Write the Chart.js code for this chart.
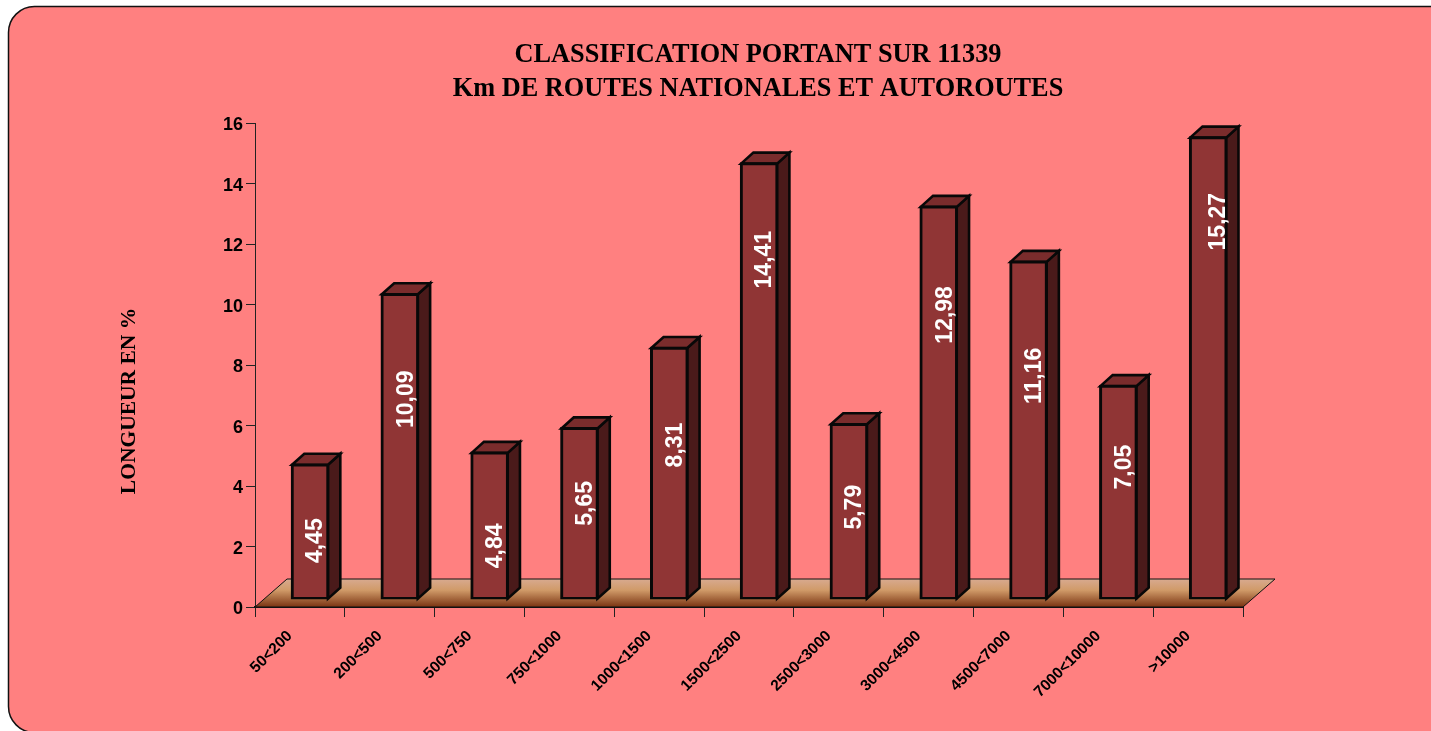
<!DOCTYPE html>
<html>
<head>
<meta charset="utf-8">
<title>Classification</title>
<script src="https://cdn.jsdelivr.net/npm/chart.js@4/dist/chart.umd.min.js"></script>
<style>
    html, body { margin: 0; padding: 0; background: #fff; overflow: hidden; }
    #wrap { width: 1518px; height: 731px; }
</style>
</head>
<body>
<div id="wrap"><canvas id="roadChart" width="1518" height="731"></canvas></div>
<script>
const categories = ['50<200', '200<500', '500<750', '750<1000', '1000<1500', '1500<2500', '2500<3000', '3000<4500', '4500<7000', '7000<10000', '>10000'];
const lengths = [4.45, 10.09, 4.84, 5.65, 8.31, 14.41, 5.79, 12.98, 11.16, 7.05, 15.27];
const yTicks = [0, 2, 4, 6, 8, 10, 12, 14, 16];
const titleLines = ['CLASSIFICATION PORTANT SUR 11339', 'Km DE ROUTES NATIONALES ET AUTOROUTES'];
const yTitle = 'LONGUEUR EN %';

const sans = '"Liberation Sans", Arial, sans-serif';
const serif = '"Liberation Serif", "Times New Roman", serif';

// the bars stand a little inside the floor
const shiftX = 10.1, shiftY = -7.8;
const depthX = 12.3, depthY = -11;
// how far below the bar top each value label sits in the original
const labelDrop = [76, 105, 93, 75, 97, 96, 83, 108, 114, 81, 84];
const labelSide = [6, 7, 6, 6, 6, 6, 6, 7, 6, 6, 10];

function path(ctx, pts) {
    ctx.beginPath();
    pts.forEach((p, i) => i ? ctx.lineTo(p[0], p[1]) : ctx.moveTo(p[0], p[1]));
    ctx.closePath();
}

const panel = {
    id: 'panel',
    beforeDraw(chart) {
        const ctx = chart.ctx;
        ctx.save();
        ctx.beginPath();
        ctx.roundRect(8.5, 6.5, 1490, 726, 26);
        ctx.fillStyle = '#ff8080';
        ctx.fill();
        ctx.strokeStyle = '#111';
        ctx.lineWidth = 1.5;
        ctx.stroke();
        ctx.restore();
    }
};

const nudge = {
    id: 'nudge',
    afterLayout(chart) {
        // title is centred on the whole panel, not on the plot
        chart.titleBlock.left += 79.5;
        chart.titleBlock.right += 79.5;
        // tick labels sit a bit off from where Chart.js puts them
        chart.scales.y.getLabelItems().forEach(item => { item.options.translation[1] += 2; });
        chart.scales.x.getLabelItems().forEach(item => {
            item.options.translation[0] -= 10;
            item.options.translation[1] += 6;
        });
    }
};

const solid = {
    id: 'solid',
    beforeDatasetsDraw(chart) {
        const ctx = chart.ctx, area = chart.chartArea;
        // floor
        const backY = area.bottom - 28, skew = 32;
        const grad = ctx.createLinearGradient(0, backY, 0, area.bottom);
        grad.addColorStop(0, '#d8aa90');
        grad.addColorStop(0.4, '#d09a68');
        grad.addColorStop(1, '#7a3412');
        ctx.save();
        path(ctx, [[area.left, area.bottom], [area.left + skew, backY], [area.right + skew, backY], [area.right, area.bottom]]);
        ctx.fillStyle = grad;
        ctx.fill();
        ctx.strokeStyle = '#111';
        ctx.lineWidth = 1;
        ctx.stroke();
        ctx.restore();

        // top and side faces
        ctx.save();
        ctx.translate(shiftX, shiftY);
        ctx.lineWidth = 2.6;
        ctx.lineJoin = 'miter';
        ctx.strokeStyle = '#080808';
        chart.getDatasetMeta(0).data.forEach(bar => {
            const l = bar.x - bar.width / 2, r = bar.x + bar.width / 2;
            path(ctx, [[r, bar.y], [r + depthX, bar.y + depthY], [r + depthX, bar.base + depthY], [r, bar.base]]);
            ctx.fillStyle = '#4a1a1a';
            ctx.fill();
            ctx.stroke();
            path(ctx, [[l, bar.y], [l + depthX, bar.y + depthY], [r + depthX, bar.y + depthY], [r, bar.y]]);
            ctx.fillStyle = '#7a2c2c';
            ctx.fill();
            ctx.stroke();
        });
        ctx.restore();

        // fronts are drawn by the library, moved onto the floor
        ctx.save();
        ctx.translate(shiftX, shiftY);
    },
    afterDatasetsDraw(chart) {
        const ctx = chart.ctx;
        ctx.restore();
        ctx.save();
        ctx.fillStyle = '#fff';
        ctx.font = 'bold 23px ' + sans;
        ctx.textAlign = 'center';
        ctx.textBaseline = 'middle';
        chart.getDatasetMeta(0).data.forEach((bar, i) => {
            ctx.save();
            ctx.translate(bar.x + shiftX + labelSide[i], bar.y + shiftY + labelDrop[i]);
            ctx.rotate(-Math.PI / 2);
            ctx.fillText(lengths[i].toFixed(2).replace('.', ','), 0, 0);
            ctx.restore();
        });
        ctx.restore();
    },
    afterDraw(chart) {
        // axis title sits lower than the middle of the scale
        const ctx = chart.ctx;
        ctx.save();
        ctx.translate(129, 401);
        ctx.rotate(-Math.PI / 2);
        ctx.fillStyle = '#000';
        ctx.font = 'bold 21.5px ' + serif;
        ctx.textAlign = 'center';
        ctx.textBaseline = 'middle';
        ctx.fillText(yTitle, 0, 0);
        ctx.restore();
    }
};

new Chart(document.getElementById('roadChart'), {
    type: 'bar',
    data: {
        labels: categories,
        datasets: [{
            data: lengths,
            backgroundColor: '#903535',
            borderColor: '#080808',
            borderWidth: 3,
            borderSkipped: false,
            inflateAmount: 1.3,
            barThickness: 36
        }]
    },
    options: {
        responsive: false,
        animation: false,
        layout: { padding: { left: 114, right: 275, top: 0, bottom: 0 } },
        plugins: {
            legend: { display: false },
            tooltip: { enabled: false },
            title: {
                display: true,
                text: titleLines,
                color: '#000',
                font: { family: serif, size: 26.3, weight: 'bold', lineHeight: 1.3 },
                padding: { top: 38, bottom: 17 }
            }
        },
        scales: {
            x: {
                afterFit(scale) { scale.height = 124; },
                border: { display: true, color: '#111', width: 2 },
                grid: { drawOnChartArea: false, drawTicks: true, tickLength: 10, color: '#222', lineWidth: 1 },
                ticks: {
                    autoSkip: false,
                    minRotation: 45,
                    maxRotation: 45,
                    padding: 4,
                    color: '#000',
                    font: { family: sans, size: 15.5, weight: 'bold' }
                }
            },
            y: {
                min: 0,
                max: 16,
                afterBuildTicks(scale) { scale.ticks = yTicks.map(v => ({ value: v })); },
                afterFit(scale) { scale.width = 141; },
                border: { display: true, color: '#222', width: 1 },
                grid: { drawOnChartArea: false, drawTicks: true, tickLength: 9, color: '#222', lineWidth: 1 },
                ticks: {
                    padding: 3,
                    color: '#000',
                    font: { family: sans, size: 18, weight: 'bold' }
                }
            }
        }
    },
    plugins: [panel, nudge, solid]
});
</script>
</body>
</html>
